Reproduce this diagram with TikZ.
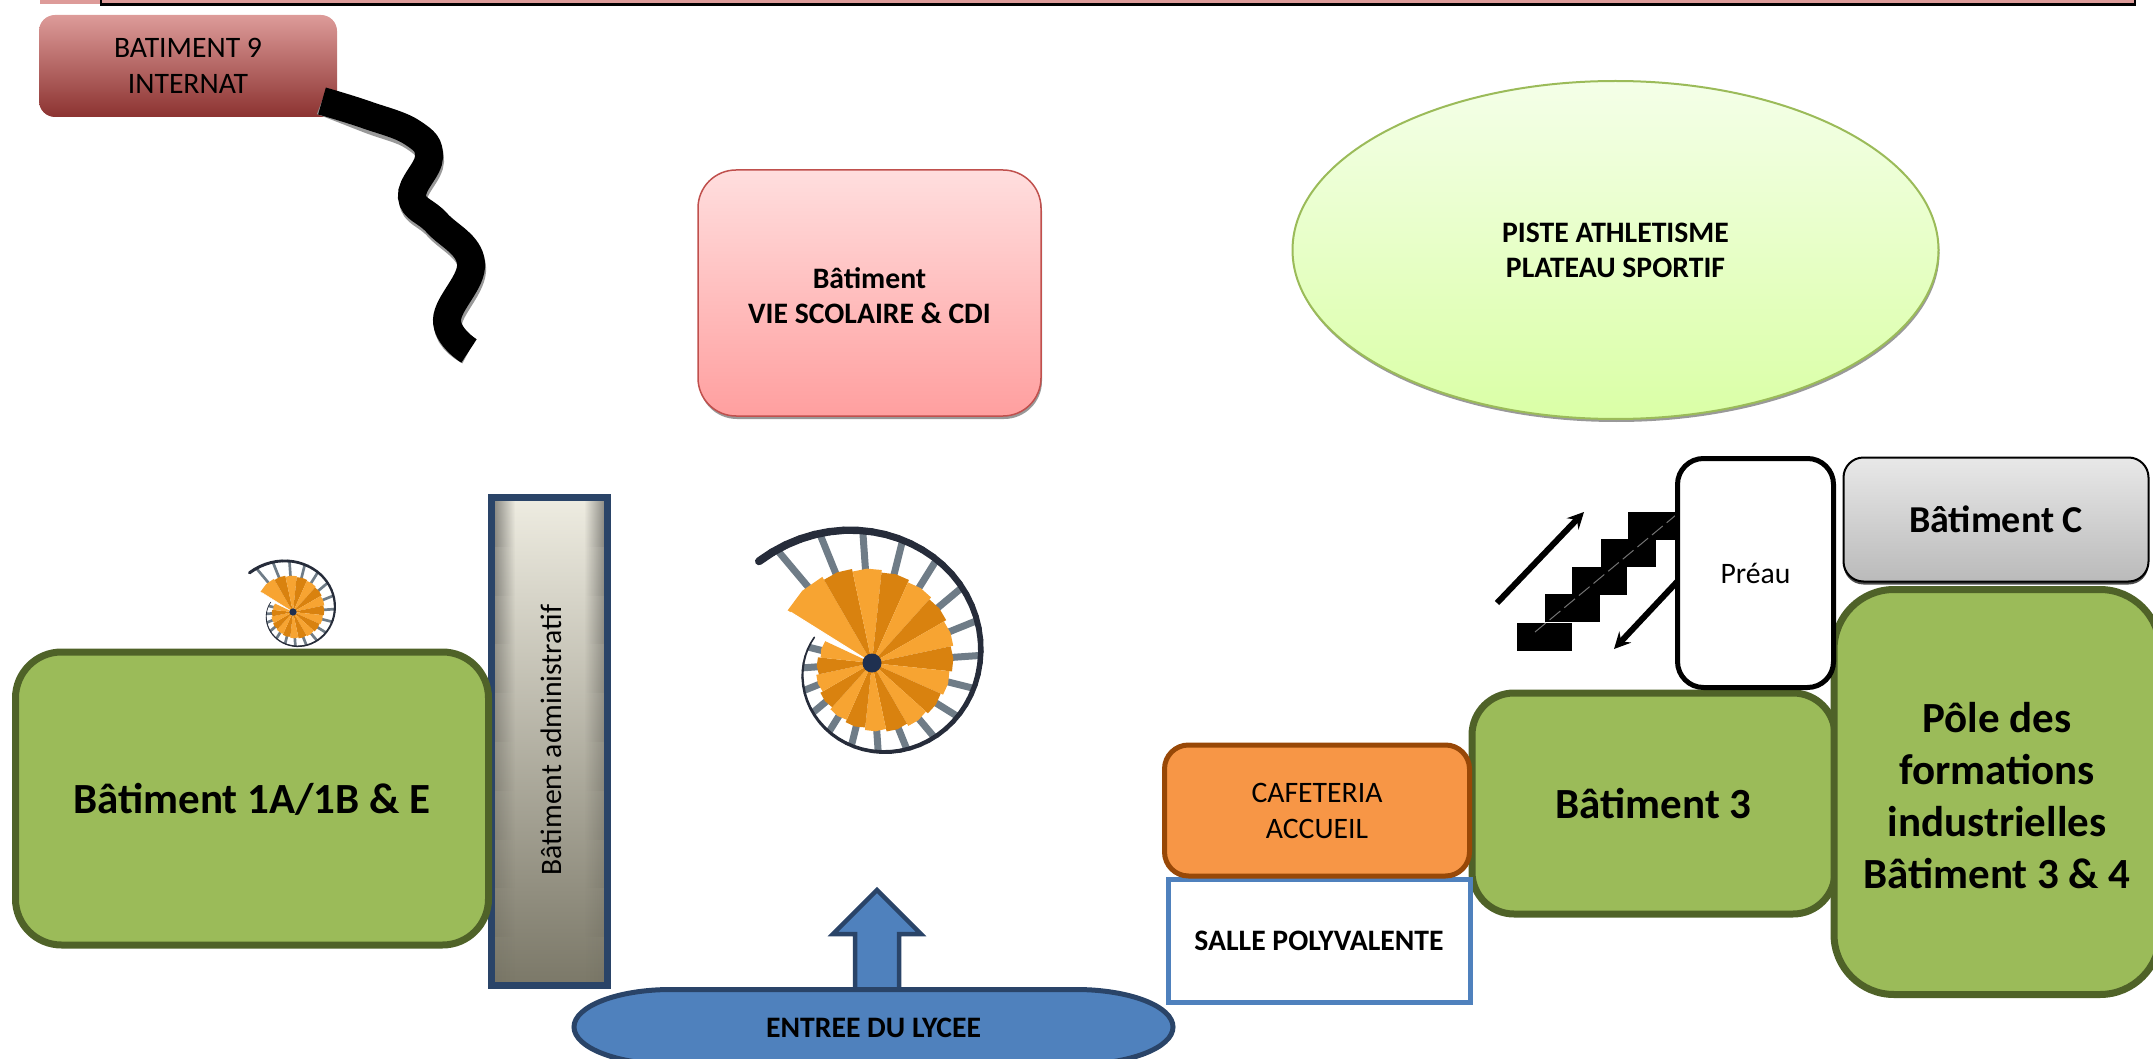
\documentclass[tikz,border=0pt]{standalone}
\usepackage{fontspec}
\setmainfont{Carlito}
\usepackage{xcolor}
\usetikzlibrary{shapes.geometric,shadows,fadings}
\tikzset{>=stealth}
\definecolor{rose}{HTML}{DD9B99}
\definecolor{rougemid}{HTML}{BE5250}
\definecolor{rougebas}{HTML}{8C3331}
\definecolor{vert}{HTML}{9BBB59}
\definecolor{vertbord}{HTML}{4F6228}
\definecolor{bleu}{HTML}{4F81BD}
\definecolor{bleubord}{HTML}{2A4468}
\definecolor{orange1}{HTML}{F79646}
\definecolor{orange2}{HTML}{984807}
\definecolor{marche}{HTML}{F7A432}
\definecolor{marche2}{HTML}{D9820F}
\definecolor{barreau}{HTML}{6F7C87}
\definecolor{noyau}{HTML}{1F3050}
\definecolor{rampe}{HTML}{262C3A}
\definecolor{rosehaut}{HTML}{FFDEDE}
\definecolor{rosebas}{HTML}{FF9F9F}
\definecolor{rosebord}{HTML}{C0504D}
\definecolor{pistehaut}{HTML}{F4FFE8}
\definecolor{pistebas}{HTML}{DAFFA6}
\definecolor{adminhaut}{HTML}{EEECE1}
\definecolor{adminmid}{HTML}{C8C6B8}
\definecolor{adminbas}{HTML}{7B7868}
\tikzset{
  txt/.style={font=\fontsize{29.7}{36}\selectfont,align=center,inner sep=0pt,text depth=-2pt},
  gras/.style={font=\fontsize{29.7}{35}\selectfont\bfseries,align=center,inner sep=0pt,text depth=-2pt},
  batvert/.style={rounded corners=46pt,draw=vertbord,line width=7pt,fill=vert,inner sep=0pt,align=center,
    font=\fontsize{43}{52}\selectfont\bfseries,text depth=-4pt},
  ombre/.style={drop shadow={shadow xshift=1pt,shadow yshift=-3pt,fill=gray!80,opacity=1}},
  serpent/.style={line width=28pt},
  declare function={rayon(\t)=108+(\t>0?0.24:0.22)*\t+0.0018*max(\t-60,0)*max(\t-60,0);}
}
\newcommand{\escalier}[3]{%
  \begin{scope}[shift={(#1,#2)},scale=#3,yscale=-1]
    % barreaux
    \foreach \a in {130,112,...,-194}{
      \pgfmathsetmacro{\rp}{78+0.145*\a}
      \pgfmathsetmacro{\rs}{rayon(\a)}
      \draw[barreau,line width=#3*7] (\a:\rp) -- (\a:\rs);
    }
    % marches
    \foreach \a/\b/\c in {148/120/marche,120/102/marche2,102/84/marche,84/66/marche2,66/48/marche,48/30/marche2,
      30/12/marche,12/-6/marche2,-6/-24/marche,-24/-42/marche2,-42/-60/marche,-60/-78/marche2,-78/-96/marche,
      -96/-114/marche2,-114/-132/marche,-132/-150/marche2,-150/-168/marche,-168/-186/marche2,-186/-205/marche}{
      \pgfmathsetmacro{\m}{(\a+\b)/2}
      \pgfmathsetmacro{\r}{80+0.145*\m}
      \fill[\c] (0,0) -- (\a:\r) -- (\m:\r+1) -- (\b:\r) -- cycle;
    }
    \draw[white,line width=#3*1] (0,0) -- (148:96);
    \fill[noyau] (0,0) circle (9.5);
    % rampe
    \foreach \a in {138,132,...,-200}{
      \pgfmathsetmacro{\af}{\a-6}
      \pgfmathsetmacro{\rd}{rayon(\a)}
      \pgfmathsetmacro{\rf}{rayon(\af)}
      \pgfmathsetmacro{\e}{1.5+6.5*(\a+205)/343}
      \draw[rampe,line cap=round,line width=#3*\e] (\a:\rd) -- (\af:\rf);
    }
  \end{scope}}

\begin{document}
\begin{tikzpicture}[x=1pt,y=-1pt]
    \useasboundingbox (0,0) rectangle (2153,1059);
    \clip (0,0) rectangle (2153,1059);

    % bandeau du haut
    \fill[rose] (40,0) rectangle (102,4);
    \draw[line width=2.5pt,fill=rose] (101,-5) rectangle (2135,4.5);

    % internat
    \node[rounded corners=16pt,top color=rose,middle color=rougemid,bottom color=rougebas,minimum width=298pt,minimum height=102pt,
      txt] at (188,66) (internat) {BATIMENT 9\\INTERNAT};
    \coordinate (depart) at (322,101);
    \coordinate (fin) at (469,351);
    \draw[serpent,black!40,xshift=1pt,yshift=-4pt] plot[smooth,tension=0.7] coordinates {(depart) (367,115) (413,133) (429,157) (412,197) (437,223) (471,263) (447,320) (fin)};
    \draw[serpent] plot[smooth,tension=0.7] coordinates {(depart) (367,115) (413,133) (429,157) (412,197) (437,223) (471,263) (447,320) (fin)};

    % vie scolaire
    \node[rounded corners=38pt,draw=rosebord,line width=1.5pt,top color=rosehaut,bottom color=rosebas,ombre,
      minimum width=343pt,minimum height=246pt] at (869.5,293) (viescolaire) {};
    \node[gras,text depth=-5pt] at (869.5,295.7) (viescolairetexte) {B\^atiment\\VIE SCOLAIRE \& CDI};

    % piste
    \node[ellipse,draw=vert,line width=2pt,top color=pistehaut,bottom color=pistebas,ombre,
      minimum width=646pt,minimum height=338pt,gras] at (1615.5,250) (piste) {PISTE ATHLETISME\\PLATEAU SPORTIF};

    % batiments gauche
    \node[top color=adminhaut,middle color=adminmid,bottom color=adminbas,minimum width=116pt,minimum height=488pt] at (549.5,741.5) (adminfond) {};
    \foreach \i in {0,...,9}{
      \pgfmathsetmacro{\op}{0.45*(1-\i/10)}
      \pgfmathsetmacro{\ya}{498+48.8*\i}
      \fill[black,opacity=\op,path fading=east] (492,\ya) rectangle (515,\ya+48.8);
      \fill[black,opacity=\op,path fading=west] (584,\ya) rectangle (607,\ya+48.8);
    }
    \node[draw=bleubord,line width=7pt,minimum width=116pt,minimum height=488pt,inner sep=0pt] at (549.5,741.5) (admin) {};
    \node[txt,rotate=90] at (551,740) (adminlabel) {B\^atiment administratif};
    \node[batvert,text depth=-5pt,minimum width=473pt,minimum height=293pt] at (252,798.5) (bat1) {B\^atiment 1A/1B \& E};

    % escaliers en colimacon
    \escalier{293}{612}{0.385}
    \escalier{872}{663}{1}

    % marches
    \draw[line width=6pt,->] (1497,603) -- (1584,512);
    \draw[line width=6pt,->] (1690,568) -- (1614,649);
    \foreach \x/\y in {1517/623,1545/594,1572/567,1601/539,1628/512}{
      \fill (\x,\y) rectangle ++(55,27.5);
    }
    \draw[black!55,line width=1pt,dash pattern=on 14pt off 5pt] (1535,632) -- (1676,515);

    % droite
    \node[batvert,rounded corners=42pt,minimum width=363pt,minimum height=221pt] at (1653.5,803.5) (bat3) {B\^atiment 3};
    \node[draw,line width=2pt,rounded corners=20pt,top color=black!9,bottom color=black!27,drop shadow={shadow xshift=0pt,shadow yshift=-3pt,fill=black!70,opacity=1},
      minimum width=305pt,minimum height=124pt,inner sep=0pt,font=\fontsize{38}{44}\selectfont\bfseries,text depth=-2pt] at (1996,519.5) (batc) {B\^atiment C};
    \node[batvert,rounded corners=60pt,minimum width=326pt,minimum height=405pt] at (1997,792) (pole) {};
    \node[font=\fontsize{43}{52}\selectfont\bfseries,align=center,inner sep=0pt,text depth=-8pt] at (1997,795) (poletexte) {P\^ole des\\formations\\industrielles\\B\^atiment 3 \& 4};
    \node[draw,line width=5pt,rounded corners=26pt,fill=white,minimum width=156pt,minimum height=229pt,txt] at (1755.5,573) (preau) {Pr\'eau};

    % cafeteria
    \node[draw=bleu,line width=5pt,fill=white,minimum width=302pt,minimum height=123pt,gras] at (1319,940.5) (salle) {SALLE POLYVALENTE};
    \node[draw=orange2,line width=5pt,rounded corners=24pt,fill=orange1,minimum width=305pt,minimum height=131pt,txt] at (1317,810.5) (cafet) {CAFETERIA\\ACCUEIL};

    % entree
    \draw[bleubord,line width=4.5pt,fill=bleu] (877,890) -- (921,934) -- (899,934) -- (899,990) -- (855,990) -- (855,934) -- (833,934) -- cycle;
    \draw[bleubord,line width=5pt,fill=bleu] (671,989.5) -- (1076,989.5) arc[start angle=-90,end angle=90,x radius=97,y radius=37.5]
      -- (671,1064.5) arc[start angle=90,end angle=270,x radius=97,y radius=37.5] -- cycle;
    \node[gras] at (873.5,1028) (entree) {ENTREE DU LYCEE};
\end{tikzpicture}
\end{document}
